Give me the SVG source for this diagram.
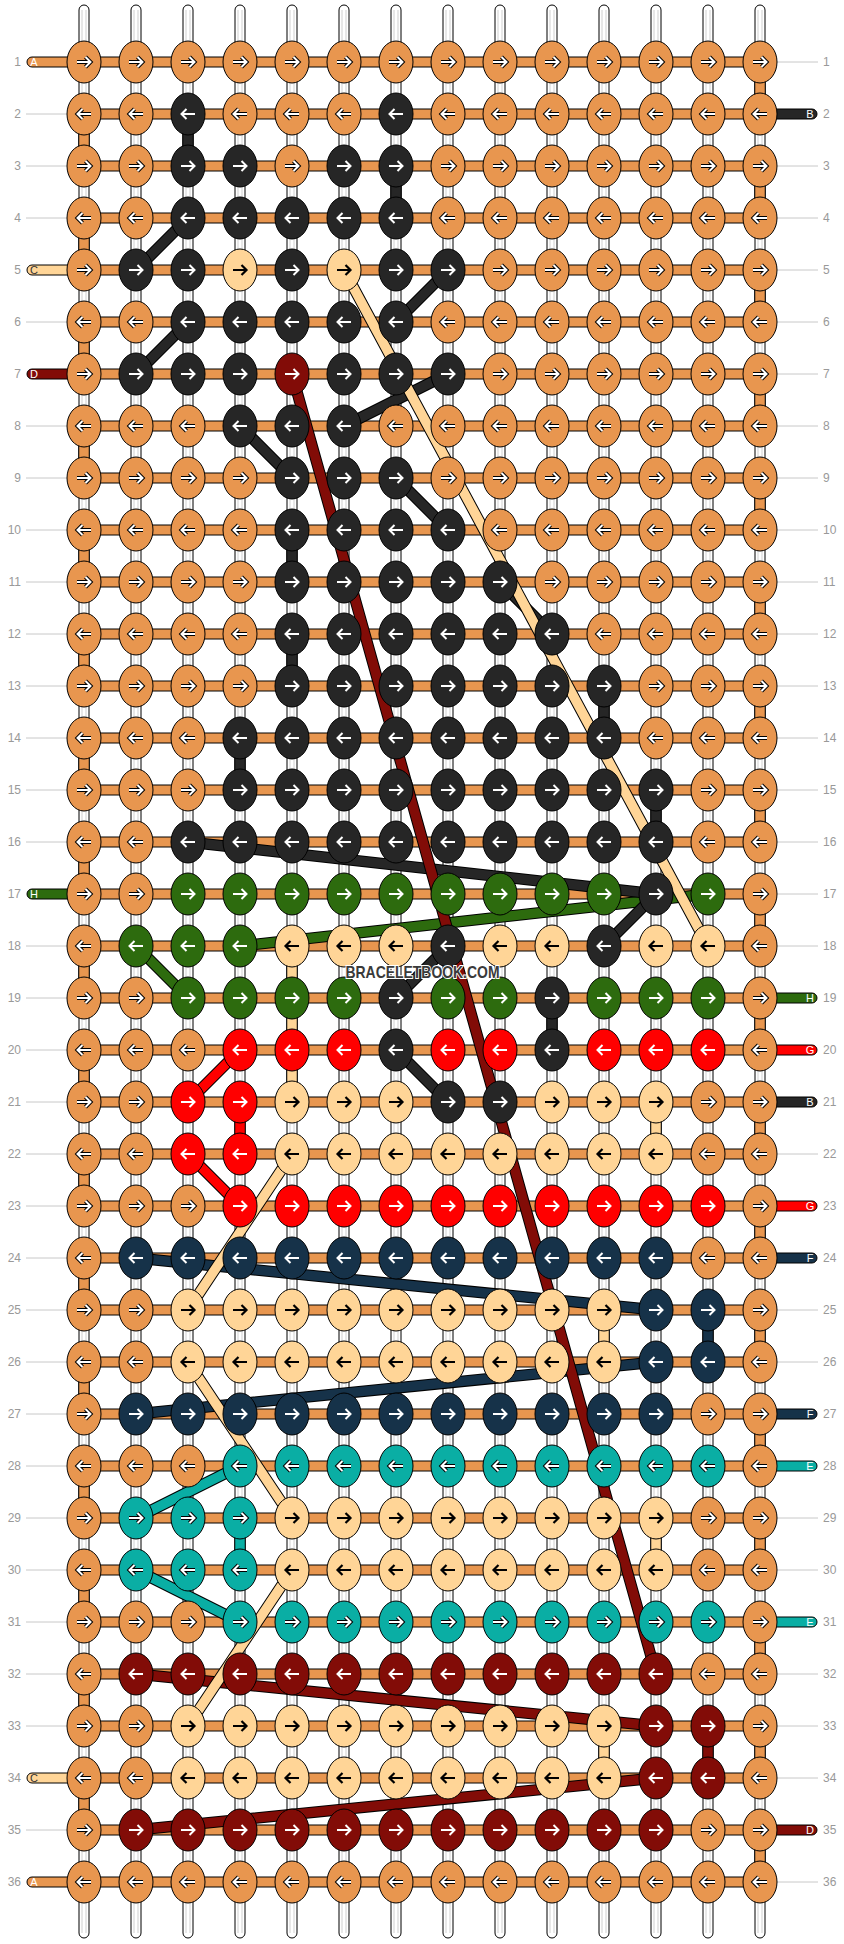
<svg xmlns="http://www.w3.org/2000/svg" xmlns:xlink="http://www.w3.org/1999/xlink" width="844" height="1944" viewBox="0 0 844 1944">
<style>
.k{stroke:#000;stroke-width:1}
.ao{fill:none;stroke:#000;stroke-width:4}
.aw{fill:none;stroke:#fff;stroke-width:2}
.ab{fill:none;stroke:#000;stroke-width:2.2}
.w{fill:#fff;stroke:#000;stroke-width:1}
.wg{fill:none;stroke:#cfcfcf;stroke-width:1}
.wf{fill:#E8964F;stroke:#000;stroke-width:1}
.o{fill:none;stroke:#000;stroke-width:11.5}
.s{fill:none;stroke-width:9.5}
.lab{font-family:"Liberation Sans",Arial,sans-serif;font-size:12px;fill:#999}
.st{font-family:"Liberation Sans",Arial,sans-serif;font-size:11px;text-anchor:middle;fill:#fff}
.gl{fill:none;stroke:#c8c8c8;stroke-width:1}
</style>
<defs>
<path id="ar" d="M-7,0H6M1.5,-5L6.5,0L1.5,5"/>
<path id="al" d="M7,0H-6M-1.5,-5L-6.5,0L-1.5,5"/>
<g id="AR"><ellipse class="k" rx="17" ry="21" fill="#E8964F"/><use href="#ar" class="ao"/><use href="#ar" class="aw"/></g>
<g id="AL"><ellipse class="k" rx="17" ry="21" fill="#E8964F"/><use href="#al" class="ao"/><use href="#al" class="aw"/></g>
<g id="BR"><ellipse class="k" rx="17" ry="21" fill="#262626"/><use href="#ar" class="aw"/></g>
<g id="BL"><ellipse class="k" rx="17" ry="21" fill="#262626"/><use href="#al" class="aw"/></g>
<g id="CR"><ellipse class="k" rx="17" ry="21" fill="#FFD597"/><use href="#ar" class="ab"/></g>
<g id="CL"><ellipse class="k" rx="17" ry="21" fill="#FFD597"/><use href="#al" class="ab"/></g>
<g id="DR"><ellipse class="k" rx="17" ry="21" fill="#820C07"/><use href="#ar" class="aw"/></g>
<g id="DL"><ellipse class="k" rx="17" ry="21" fill="#820C07"/><use href="#al" class="aw"/></g>
<g id="ER"><ellipse class="k" rx="17" ry="21" fill="#0AAEA4"/><use href="#ar" class="ao"/><use href="#ar" class="aw"/></g>
<g id="EL"><ellipse class="k" rx="17" ry="21" fill="#0AAEA4"/><use href="#al" class="ao"/><use href="#al" class="aw"/></g>
<g id="FR"><ellipse class="k" rx="17" ry="21" fill="#163249"/><use href="#ar" class="aw"/></g>
<g id="FL"><ellipse class="k" rx="17" ry="21" fill="#163249"/><use href="#al" class="aw"/></g>
<g id="GR"><ellipse class="k" rx="17" ry="21" fill="#FF0000"/><use href="#ar" class="aw"/></g>
<g id="GL"><ellipse class="k" rx="17" ry="21" fill="#FF0000"/><use href="#al" class="aw"/></g>
<g id="HR"><ellipse class="k" rx="17" ry="21" fill="#2D6B0E"/><use href="#ar" class="aw"/></g>
<g id="HL"><ellipse class="k" rx="17" ry="21" fill="#2D6B0E"/><use href="#al" class="aw"/></g>
</defs>
<rect width="844" height="1944" fill="#fff"/>
<g id="warps">
<rect class="w" x="79" y="5" width="10" height="1933" rx="5"/><rect class="w" x="131" y="5" width="10" height="1933" rx="5"/><rect class="w" x="183" y="5" width="10" height="1933" rx="5"/><rect class="w" x="235" y="5" width="10" height="1933" rx="5"/><rect class="w" x="287" y="5" width="10" height="1933" rx="5"/><rect class="w" x="339" y="5" width="10" height="1933" rx="5"/><rect class="w" x="391" y="5" width="10" height="1933" rx="5"/><rect class="w" x="443" y="5" width="10" height="1933" rx="5"/><rect class="w" x="495" y="5" width="10" height="1933" rx="5"/><rect class="w" x="547" y="5" width="10" height="1933" rx="5"/><rect class="w" x="599" y="5" width="10" height="1933" rx="5"/><rect class="w" x="651" y="5" width="10" height="1933" rx="5"/><rect class="w" x="703" y="5" width="10" height="1933" rx="5"/><rect class="w" x="755" y="5" width="10" height="1933" rx="5"/>
<path class="wg" d="M82,10V1933M86,10V1933M134,10V1933M138,10V1933M186,10V1933M190,10V1933M238,10V1933M242,10V1933M290,10V1933M294,10V1933M342,10V1933M346,10V1933M394,10V1933M398,10V1933M446,10V1933M450,10V1933M498,10V1933M502,10V1933M550,10V1933M554,10V1933M602,10V1933M606,10V1933M654,10V1933M658,10V1933M706,10V1933M710,10V1933M758,10V1933M762,10V1933"/>
</g>
<g id="wefts">
<rect class="wf" x="84" y="57" width="676" height="10"/><rect class="wf" x="84" y="109" width="676" height="10"/><rect class="wf" x="84" y="161" width="676" height="10"/><rect class="wf" x="84" y="213" width="676" height="10"/><rect class="wf" x="84" y="265" width="676" height="10"/><rect class="wf" x="84" y="317" width="676" height="10"/><rect class="wf" x="84" y="369" width="676" height="10"/><rect class="wf" x="84" y="421" width="676" height="10"/><rect class="wf" x="84" y="473" width="676" height="10"/><rect class="wf" x="84" y="525" width="676" height="10"/><rect class="wf" x="84" y="577" width="676" height="10"/><rect class="wf" x="84" y="629" width="676" height="10"/><rect class="wf" x="84" y="681" width="676" height="10"/><rect class="wf" x="84" y="733" width="676" height="10"/><rect class="wf" x="84" y="785" width="676" height="10"/><rect class="wf" x="84" y="837" width="676" height="10"/><rect class="wf" x="84" y="889" width="676" height="10"/><rect class="wf" x="84" y="941" width="676" height="10"/><rect class="wf" x="84" y="993" width="676" height="10"/><rect class="wf" x="84" y="1045" width="676" height="10"/><rect class="wf" x="84" y="1097" width="676" height="10"/><rect class="wf" x="84" y="1149" width="676" height="10"/><rect class="wf" x="84" y="1201" width="676" height="10"/><rect class="wf" x="84" y="1253" width="676" height="10"/><rect class="wf" x="84" y="1305" width="676" height="10"/><rect class="wf" x="84" y="1357" width="676" height="10"/><rect class="wf" x="84" y="1409" width="676" height="10"/><rect class="wf" x="84" y="1461" width="676" height="10"/><rect class="wf" x="84" y="1513" width="676" height="10"/><rect class="wf" x="84" y="1565" width="676" height="10"/><rect class="wf" x="84" y="1617" width="676" height="10"/><rect class="wf" x="84" y="1669" width="676" height="10"/><rect class="wf" x="84" y="1721" width="676" height="10"/><rect class="wf" x="84" y="1773" width="676" height="10"/><rect class="wf" x="84" y="1825" width="676" height="10"/><rect class="wf" x="84" y="1877" width="676" height="10"/>
</g>
<g id="stubs">
<rect class="k" x="27" y="57" width="60" height="10" rx="5" fill="#E8964F"/>
<rect class="k" x="27" y="265" width="60" height="10" rx="5" fill="#FFD597"/>
<rect class="k" x="27" y="369" width="60" height="10" rx="5" fill="#820C07"/>
<rect class="k" x="27" y="889" width="60" height="10" rx="5" fill="#2D6B0E"/>
<rect class="k" x="27" y="1773" width="60" height="10" rx="5" fill="#FFD597"/>
<rect class="k" x="27" y="1877" width="60" height="10" rx="5" fill="#E8964F"/>
<rect class="k" x="757" y="109" width="60" height="10" rx="5" fill="#262626"/>
<rect class="k" x="757" y="993" width="60" height="10" rx="5" fill="#2D6B0E"/>
<rect class="k" x="757" y="1045" width="60" height="10" rx="5" fill="#FF0000"/>
<rect class="k" x="757" y="1097" width="60" height="10" rx="5" fill="#262626"/>
<rect class="k" x="757" y="1201" width="60" height="10" rx="5" fill="#FF0000"/>
<rect class="k" x="757" y="1253" width="60" height="10" rx="5" fill="#163249"/>
<rect class="k" x="757" y="1409" width="60" height="10" rx="5" fill="#163249"/>
<rect class="k" x="757" y="1461" width="60" height="10" rx="5" fill="#0AAEA4"/>
<rect class="k" x="757" y="1617" width="60" height="10" rx="5" fill="#0AAEA4"/>
<rect class="k" x="757" y="1825" width="60" height="10" rx="5" fill="#820C07"/>
<text class="st" x="34" y="66">A</text>
<text class="st" x="34" y="274" fill="#333" style="fill:#333">C</text>
<text class="st" x="34" y="378">D</text>
<text class="st" x="34" y="898">H</text>
<text class="st" x="34" y="1782" style="fill:#333">C</text>
<text class="st" x="34" y="1886">A</text>
<text class="st" x="810" y="118">B</text>
<text class="st" x="810" y="1002">H</text>
<text class="st" x="810" y="1054">G</text>
<text class="st" x="810" y="1106">B</text>
<text class="st" x="810" y="1210">G</text>
<text class="st" x="810" y="1262">F</text>
<text class="st" x="810" y="1418">F</text>
<text class="st" x="810" y="1470">E</text>
<text class="st" x="810" y="1626">E</text>
<text class="st" x="810" y="1834">D</text>
</g>
<g id="connectors">
<path class="o" d="M84,114V166M84,218V270M84,322V374M84,426V478M84,530V582M84,634V686M84,738V790M84,842V894M84,946V998M84,1050V1102M84,1154V1206M84,1258V1310M84,1362V1414M84,1466V1518M84,1570V1622M84,1674V1726M84,1778V1830M760,62V114M760,166V218M760,270V322M760,374V426M760,478V530M760,582V634M760,686V738M760,790V842M760,894V946M760,998V1050M760,1102V1154M760,1206V1258M760,1310V1362M760,1414V1466M760,1518V1570M760,1622V1674M760,1726V1778M760,1830V1882"/>
<path class="s" stroke="#E8964F" d="M84,114V166M84,218V270M84,322V374M84,426V478M84,530V582M84,634V686M84,738V790M84,842V894M84,946V998M84,1050V1102M84,1154V1206M84,1258V1310M84,1362V1414M84,1466V1518M84,1570V1622M84,1674V1726M84,1778V1830M760,62V114M760,166V218M760,270V322M760,374V426M760,478V530M760,582V634M760,686V738M760,790V842M760,894V946M760,998V1050M760,1102V1154M760,1206V1258M760,1310V1362M760,1414V1466M760,1518V1570M760,1622V1674M760,1726V1778M760,1830V1882"/>
<path class="o" d="M240,1466L136,1518M240,1518V1570M136,1570L240,1622"/>
<path class="s" stroke="#0AAEA4" d="M240,1466L136,1518M240,1518V1570M136,1570L240,1622"/>
<path class="o" d="M136,1258L656,1310M708,1310V1362M656,1362L136,1414"/>
<path class="s" stroke="#163249" d="M136,1258L656,1310M708,1310V1362M656,1362L136,1414"/>
<path class="o" d="M240,1050L188,1102M240,1102V1154M188,1154L240,1206"/>
<path class="s" stroke="#FF0000" d="M240,1050L188,1102M240,1102V1154M188,1154L240,1206"/>
<path class="o" d="M708,894L240,946M136,946L188,998"/>
<path class="s" stroke="#2D6B0E" d="M708,894L240,946M136,946L188,998"/>
<path class="o" d="M188,114V166M396,166V218M188,218L136,270M448,270L396,322M188,322L136,374M448,374L344,426M240,426L292,478M396,478L448,530M292,530V582M500,582L552,634M292,634V686M604,686V738M240,738V790M656,790V842M188,842L656,894M656,894L604,946M448,946L396,998M552,998V1050M396,1050L448,1102"/>
<path class="s" stroke="#262626" d="M188,114V166M396,166V218M188,218L136,270M448,270L396,322M188,322L136,374M448,374L344,426M240,426L292,478M396,478L448,530M292,530V582M500,582L552,634M292,634V686M604,686V738M240,738V790M656,790V842M188,842L656,894M656,894L604,946M448,946L396,998M552,998V1050M396,1050L448,1102"/>
<path class="o" d="M292,374L656,1674M136,1674L656,1726M708,1726V1778M656,1778L136,1830"/>
<path class="s" stroke="#820C07" d="M292,374L656,1674M136,1674L656,1726M708,1726V1778M656,1778L136,1830"/>
<path class="o" d="M344,270L708,946M292,946V1102M656,1102V1154M292,1154L188,1310M604,1310V1362M188,1362L292,1518M656,1518V1570M292,1570L188,1726M604,1726V1778"/>
<path class="s" stroke="#FFD597" d="M344,270L708,946M292,946V1102M656,1102V1154M292,1154L188,1310M604,1310V1362M188,1362L292,1518M656,1518V1570M292,1570L188,1726M604,1726V1778"/>
</g>
<g id="row-lines">
<path class="gl" d="M26,114H67M26,166H67M26,218H67M26,322H67M26,426H67M26,478H67M26,530H67M26,582H67M26,634H67M26,686H67M26,738H67M26,790H67M26,842H67M26,946H67M26,998H67M26,1050H67M26,1102H67M26,1154H67M26,1206H67M26,1258H67M26,1310H67M26,1362H67M26,1414H67M26,1466H67M26,1518H67M26,1570H67M26,1622H67M26,1674H67M26,1726H67M26,1830H67"/>
<path class="gl" d="M777,62H818M777,166H818M777,218H818M777,270H818M777,322H818M777,374H818M777,426H818M777,478H818M777,530H818M777,582H818M777,634H818M777,686H818M777,738H818M777,790H818M777,842H818M777,894H818M777,946H818M777,1154H818M777,1310H818M777,1362H818M777,1518H818M777,1570H818M777,1674H818M777,1726H818M777,1778H818M777,1882H818"/>
</g>
<g id="row-numbers" class="lab">
<g text-anchor="end">
<text x="21" y="66">1</text><text x="21" y="118">2</text><text x="21" y="170">3</text><text x="21" y="222">4</text><text x="21" y="274">5</text><text x="21" y="326">6</text><text x="21" y="378">7</text><text x="21" y="430">8</text><text x="21" y="482">9</text><text x="21" y="534">10</text><text x="21" y="586">11</text><text x="21" y="638">12</text><text x="21" y="690">13</text><text x="21" y="742">14</text><text x="21" y="794">15</text><text x="21" y="846">16</text><text x="21" y="898">17</text><text x="21" y="950">18</text><text x="21" y="1002">19</text><text x="21" y="1054">20</text><text x="21" y="1106">21</text><text x="21" y="1158">22</text><text x="21" y="1210">23</text><text x="21" y="1262">24</text><text x="21" y="1314">25</text><text x="21" y="1366">26</text><text x="21" y="1418">27</text><text x="21" y="1470">28</text><text x="21" y="1522">29</text><text x="21" y="1574">30</text><text x="21" y="1626">31</text><text x="21" y="1678">32</text><text x="21" y="1730">33</text><text x="21" y="1782">34</text><text x="21" y="1834">35</text><text x="21" y="1886">36</text>
</g>
<g>
<text x="823" y="66">1</text><text x="823" y="118">2</text><text x="823" y="170">3</text><text x="823" y="222">4</text><text x="823" y="274">5</text><text x="823" y="326">6</text><text x="823" y="378">7</text><text x="823" y="430">8</text><text x="823" y="482">9</text><text x="823" y="534">10</text><text x="823" y="586">11</text><text x="823" y="638">12</text><text x="823" y="690">13</text><text x="823" y="742">14</text><text x="823" y="794">15</text><text x="823" y="846">16</text><text x="823" y="898">17</text><text x="823" y="950">18</text><text x="823" y="1002">19</text><text x="823" y="1054">20</text><text x="823" y="1106">21</text><text x="823" y="1158">22</text><text x="823" y="1210">23</text><text x="823" y="1262">24</text><text x="823" y="1314">25</text><text x="823" y="1366">26</text><text x="823" y="1418">27</text><text x="823" y="1470">28</text><text x="823" y="1522">29</text><text x="823" y="1574">30</text><text x="823" y="1626">31</text><text x="823" y="1678">32</text><text x="823" y="1730">33</text><text x="823" y="1782">34</text><text x="823" y="1834">35</text><text x="823" y="1886">36</text>
</g>
</g>
<g id="knots">
<g id="row1" transform="translate(0,62)"><use href="#AR" x="84"/><use href="#AR" x="136"/><use href="#AR" x="188"/><use href="#AR" x="240"/><use href="#AR" x="292"/><use href="#AR" x="344"/><use href="#AR" x="396"/><use href="#AR" x="448"/><use href="#AR" x="500"/><use href="#AR" x="552"/><use href="#AR" x="604"/><use href="#AR" x="656"/><use href="#AR" x="708"/><use href="#AR" x="760"/></g>
<g id="row2" transform="translate(0,114)"><use href="#AL" x="84"/><use href="#AL" x="136"/><use href="#BL" x="188"/><use href="#AL" x="240"/><use href="#AL" x="292"/><use href="#AL" x="344"/><use href="#BL" x="396"/><use href="#AL" x="448"/><use href="#AL" x="500"/><use href="#AL" x="552"/><use href="#AL" x="604"/><use href="#AL" x="656"/><use href="#AL" x="708"/><use href="#AL" x="760"/></g>
<g id="row3" transform="translate(0,166)"><use href="#AR" x="84"/><use href="#AR" x="136"/><use href="#BR" x="188"/><use href="#BR" x="240"/><use href="#AR" x="292"/><use href="#BR" x="344"/><use href="#BR" x="396"/><use href="#AR" x="448"/><use href="#AR" x="500"/><use href="#AR" x="552"/><use href="#AR" x="604"/><use href="#AR" x="656"/><use href="#AR" x="708"/><use href="#AR" x="760"/></g>
<g id="row4" transform="translate(0,218)"><use href="#AL" x="84"/><use href="#AL" x="136"/><use href="#BL" x="188"/><use href="#BL" x="240"/><use href="#BL" x="292"/><use href="#BL" x="344"/><use href="#BL" x="396"/><use href="#AL" x="448"/><use href="#AL" x="500"/><use href="#AL" x="552"/><use href="#AL" x="604"/><use href="#AL" x="656"/><use href="#AL" x="708"/><use href="#AL" x="760"/></g>
<g id="row5" transform="translate(0,270)"><use href="#AR" x="84"/><use href="#BR" x="136"/><use href="#BR" x="188"/><use href="#CR" x="240"/><use href="#BR" x="292"/><use href="#CR" x="344"/><use href="#BR" x="396"/><use href="#BR" x="448"/><use href="#AR" x="500"/><use href="#AR" x="552"/><use href="#AR" x="604"/><use href="#AR" x="656"/><use href="#AR" x="708"/><use href="#AR" x="760"/></g>
<g id="row6" transform="translate(0,322)"><use href="#AL" x="84"/><use href="#AL" x="136"/><use href="#BL" x="188"/><use href="#BL" x="240"/><use href="#BL" x="292"/><use href="#BL" x="344"/><use href="#BL" x="396"/><use href="#AL" x="448"/><use href="#AL" x="500"/><use href="#AL" x="552"/><use href="#AL" x="604"/><use href="#AL" x="656"/><use href="#AL" x="708"/><use href="#AL" x="760"/></g>
<g id="row7" transform="translate(0,374)"><use href="#AR" x="84"/><use href="#BR" x="136"/><use href="#BR" x="188"/><use href="#BR" x="240"/><use href="#DR" x="292"/><use href="#BR" x="344"/><use href="#BR" x="396"/><use href="#BR" x="448"/><use href="#AR" x="500"/><use href="#AR" x="552"/><use href="#AR" x="604"/><use href="#AR" x="656"/><use href="#AR" x="708"/><use href="#AR" x="760"/></g>
<g id="row8" transform="translate(0,426)"><use href="#AL" x="84"/><use href="#AL" x="136"/><use href="#AL" x="188"/><use href="#BL" x="240"/><use href="#BL" x="292"/><use href="#BL" x="344"/><use href="#AL" x="396"/><use href="#AL" x="448"/><use href="#AL" x="500"/><use href="#AL" x="552"/><use href="#AL" x="604"/><use href="#AL" x="656"/><use href="#AL" x="708"/><use href="#AL" x="760"/></g>
<g id="row9" transform="translate(0,478)"><use href="#AR" x="84"/><use href="#AR" x="136"/><use href="#AR" x="188"/><use href="#AR" x="240"/><use href="#BR" x="292"/><use href="#BR" x="344"/><use href="#BR" x="396"/><use href="#AR" x="448"/><use href="#AR" x="500"/><use href="#AR" x="552"/><use href="#AR" x="604"/><use href="#AR" x="656"/><use href="#AR" x="708"/><use href="#AR" x="760"/></g>
<g id="row10" transform="translate(0,530)"><use href="#AL" x="84"/><use href="#AL" x="136"/><use href="#AL" x="188"/><use href="#AL" x="240"/><use href="#BL" x="292"/><use href="#BL" x="344"/><use href="#BL" x="396"/><use href="#BL" x="448"/><use href="#AL" x="500"/><use href="#AL" x="552"/><use href="#AL" x="604"/><use href="#AL" x="656"/><use href="#AL" x="708"/><use href="#AL" x="760"/></g>
<g id="row11" transform="translate(0,582)"><use href="#AR" x="84"/><use href="#AR" x="136"/><use href="#AR" x="188"/><use href="#AR" x="240"/><use href="#BR" x="292"/><use href="#BR" x="344"/><use href="#BR" x="396"/><use href="#BR" x="448"/><use href="#BR" x="500"/><use href="#AR" x="552"/><use href="#AR" x="604"/><use href="#AR" x="656"/><use href="#AR" x="708"/><use href="#AR" x="760"/></g>
<g id="row12" transform="translate(0,634)"><use href="#AL" x="84"/><use href="#AL" x="136"/><use href="#AL" x="188"/><use href="#AL" x="240"/><use href="#BL" x="292"/><use href="#BL" x="344"/><use href="#BL" x="396"/><use href="#BL" x="448"/><use href="#BL" x="500"/><use href="#BL" x="552"/><use href="#AL" x="604"/><use href="#AL" x="656"/><use href="#AL" x="708"/><use href="#AL" x="760"/></g>
<g id="row13" transform="translate(0,686)"><use href="#AR" x="84"/><use href="#AR" x="136"/><use href="#AR" x="188"/><use href="#AR" x="240"/><use href="#BR" x="292"/><use href="#BR" x="344"/><use href="#BR" x="396"/><use href="#BR" x="448"/><use href="#BR" x="500"/><use href="#BR" x="552"/><use href="#BR" x="604"/><use href="#AR" x="656"/><use href="#AR" x="708"/><use href="#AR" x="760"/></g>
<g id="row14" transform="translate(0,738)"><use href="#AL" x="84"/><use href="#AL" x="136"/><use href="#AL" x="188"/><use href="#BL" x="240"/><use href="#BL" x="292"/><use href="#BL" x="344"/><use href="#BL" x="396"/><use href="#BL" x="448"/><use href="#BL" x="500"/><use href="#BL" x="552"/><use href="#BL" x="604"/><use href="#AL" x="656"/><use href="#AL" x="708"/><use href="#AL" x="760"/></g>
<g id="row15" transform="translate(0,790)"><use href="#AR" x="84"/><use href="#AR" x="136"/><use href="#AR" x="188"/><use href="#BR" x="240"/><use href="#BR" x="292"/><use href="#BR" x="344"/><use href="#BR" x="396"/><use href="#BR" x="448"/><use href="#BR" x="500"/><use href="#BR" x="552"/><use href="#BR" x="604"/><use href="#BR" x="656"/><use href="#AR" x="708"/><use href="#AR" x="760"/></g>
<g id="row16" transform="translate(0,842)"><use href="#AL" x="84"/><use href="#AL" x="136"/><use href="#BL" x="188"/><use href="#BL" x="240"/><use href="#BL" x="292"/><use href="#BL" x="344"/><use href="#BL" x="396"/><use href="#BL" x="448"/><use href="#BL" x="500"/><use href="#BL" x="552"/><use href="#BL" x="604"/><use href="#BL" x="656"/><use href="#AL" x="708"/><use href="#AL" x="760"/></g>
<g id="row17" transform="translate(0,894)"><use href="#AR" x="84"/><use href="#AR" x="136"/><use href="#HR" x="188"/><use href="#HR" x="240"/><use href="#HR" x="292"/><use href="#HR" x="344"/><use href="#HR" x="396"/><use href="#HR" x="448"/><use href="#HR" x="500"/><use href="#HR" x="552"/><use href="#HR" x="604"/><use href="#BR" x="656"/><use href="#HR" x="708"/><use href="#AR" x="760"/></g>
<g id="row18" transform="translate(0,946)"><use href="#AL" x="84"/><use href="#HL" x="136"/><use href="#HL" x="188"/><use href="#HL" x="240"/><use href="#CL" x="292"/><use href="#CL" x="344"/><use href="#CL" x="396"/><use href="#BL" x="448"/><use href="#CL" x="500"/><use href="#CL" x="552"/><use href="#BL" x="604"/><use href="#CL" x="656"/><use href="#CL" x="708"/><use href="#AL" x="760"/></g>
<g id="row19" transform="translate(0,998)"><use href="#AR" x="84"/><use href="#AR" x="136"/><use href="#HR" x="188"/><use href="#HR" x="240"/><use href="#HR" x="292"/><use href="#HR" x="344"/><use href="#BR" x="396"/><use href="#HR" x="448"/><use href="#HR" x="500"/><use href="#BR" x="552"/><use href="#HR" x="604"/><use href="#HR" x="656"/><use href="#HR" x="708"/><use href="#AR" x="760"/></g>
<g id="row20" transform="translate(0,1050)"><use href="#AL" x="84"/><use href="#AL" x="136"/><use href="#AL" x="188"/><use href="#GL" x="240"/><use href="#GL" x="292"/><use href="#GL" x="344"/><use href="#BL" x="396"/><use href="#GL" x="448"/><use href="#GL" x="500"/><use href="#BL" x="552"/><use href="#GL" x="604"/><use href="#GL" x="656"/><use href="#GL" x="708"/><use href="#AL" x="760"/></g>
<g id="row21" transform="translate(0,1102)"><use href="#AR" x="84"/><use href="#AR" x="136"/><use href="#GR" x="188"/><use href="#GR" x="240"/><use href="#CR" x="292"/><use href="#CR" x="344"/><use href="#CR" x="396"/><use href="#BR" x="448"/><use href="#BR" x="500"/><use href="#CR" x="552"/><use href="#CR" x="604"/><use href="#CR" x="656"/><use href="#AR" x="708"/><use href="#AR" x="760"/></g>
<g id="row22" transform="translate(0,1154)"><use href="#AL" x="84"/><use href="#AL" x="136"/><use href="#GL" x="188"/><use href="#GL" x="240"/><use href="#CL" x="292"/><use href="#CL" x="344"/><use href="#CL" x="396"/><use href="#CL" x="448"/><use href="#CL" x="500"/><use href="#CL" x="552"/><use href="#CL" x="604"/><use href="#CL" x="656"/><use href="#AL" x="708"/><use href="#AL" x="760"/></g>
<g id="row23" transform="translate(0,1206)"><use href="#AR" x="84"/><use href="#AR" x="136"/><use href="#AR" x="188"/><use href="#GR" x="240"/><use href="#GR" x="292"/><use href="#GR" x="344"/><use href="#GR" x="396"/><use href="#GR" x="448"/><use href="#GR" x="500"/><use href="#GR" x="552"/><use href="#GR" x="604"/><use href="#GR" x="656"/><use href="#GR" x="708"/><use href="#AR" x="760"/></g>
<g id="row24" transform="translate(0,1258)"><use href="#AL" x="84"/><use href="#FL" x="136"/><use href="#FL" x="188"/><use href="#FL" x="240"/><use href="#FL" x="292"/><use href="#FL" x="344"/><use href="#FL" x="396"/><use href="#FL" x="448"/><use href="#FL" x="500"/><use href="#FL" x="552"/><use href="#FL" x="604"/><use href="#FL" x="656"/><use href="#AL" x="708"/><use href="#AL" x="760"/></g>
<g id="row25" transform="translate(0,1310)"><use href="#AR" x="84"/><use href="#AR" x="136"/><use href="#CR" x="188"/><use href="#CR" x="240"/><use href="#CR" x="292"/><use href="#CR" x="344"/><use href="#CR" x="396"/><use href="#CR" x="448"/><use href="#CR" x="500"/><use href="#CR" x="552"/><use href="#CR" x="604"/><use href="#FR" x="656"/><use href="#FR" x="708"/><use href="#AR" x="760"/></g>
<g id="row26" transform="translate(0,1362)"><use href="#AL" x="84"/><use href="#AL" x="136"/><use href="#CL" x="188"/><use href="#CL" x="240"/><use href="#CL" x="292"/><use href="#CL" x="344"/><use href="#CL" x="396"/><use href="#CL" x="448"/><use href="#CL" x="500"/><use href="#CL" x="552"/><use href="#CL" x="604"/><use href="#FL" x="656"/><use href="#FL" x="708"/><use href="#AL" x="760"/></g>
<g id="row27" transform="translate(0,1414)"><use href="#AR" x="84"/><use href="#FR" x="136"/><use href="#FR" x="188"/><use href="#FR" x="240"/><use href="#FR" x="292"/><use href="#FR" x="344"/><use href="#FR" x="396"/><use href="#FR" x="448"/><use href="#FR" x="500"/><use href="#FR" x="552"/><use href="#FR" x="604"/><use href="#FR" x="656"/><use href="#AR" x="708"/><use href="#AR" x="760"/></g>
<g id="row28" transform="translate(0,1466)"><use href="#AL" x="84"/><use href="#AL" x="136"/><use href="#AL" x="188"/><use href="#EL" x="240"/><use href="#EL" x="292"/><use href="#EL" x="344"/><use href="#EL" x="396"/><use href="#EL" x="448"/><use href="#EL" x="500"/><use href="#EL" x="552"/><use href="#EL" x="604"/><use href="#EL" x="656"/><use href="#EL" x="708"/><use href="#AL" x="760"/></g>
<g id="row29" transform="translate(0,1518)"><use href="#AR" x="84"/><use href="#ER" x="136"/><use href="#ER" x="188"/><use href="#ER" x="240"/><use href="#CR" x="292"/><use href="#CR" x="344"/><use href="#CR" x="396"/><use href="#CR" x="448"/><use href="#CR" x="500"/><use href="#CR" x="552"/><use href="#CR" x="604"/><use href="#CR" x="656"/><use href="#AR" x="708"/><use href="#AR" x="760"/></g>
<g id="row30" transform="translate(0,1570)"><use href="#AL" x="84"/><use href="#EL" x="136"/><use href="#EL" x="188"/><use href="#EL" x="240"/><use href="#CL" x="292"/><use href="#CL" x="344"/><use href="#CL" x="396"/><use href="#CL" x="448"/><use href="#CL" x="500"/><use href="#CL" x="552"/><use href="#CL" x="604"/><use href="#CL" x="656"/><use href="#AL" x="708"/><use href="#AL" x="760"/></g>
<g id="row31" transform="translate(0,1622)"><use href="#AR" x="84"/><use href="#AR" x="136"/><use href="#AR" x="188"/><use href="#ER" x="240"/><use href="#ER" x="292"/><use href="#ER" x="344"/><use href="#ER" x="396"/><use href="#ER" x="448"/><use href="#ER" x="500"/><use href="#ER" x="552"/><use href="#ER" x="604"/><use href="#ER" x="656"/><use href="#ER" x="708"/><use href="#AR" x="760"/></g>
<g id="row32" transform="translate(0,1674)"><use href="#AL" x="84"/><use href="#DL" x="136"/><use href="#DL" x="188"/><use href="#DL" x="240"/><use href="#DL" x="292"/><use href="#DL" x="344"/><use href="#DL" x="396"/><use href="#DL" x="448"/><use href="#DL" x="500"/><use href="#DL" x="552"/><use href="#DL" x="604"/><use href="#DL" x="656"/><use href="#AL" x="708"/><use href="#AL" x="760"/></g>
<g id="row33" transform="translate(0,1726)"><use href="#AR" x="84"/><use href="#AR" x="136"/><use href="#CR" x="188"/><use href="#CR" x="240"/><use href="#CR" x="292"/><use href="#CR" x="344"/><use href="#CR" x="396"/><use href="#CR" x="448"/><use href="#CR" x="500"/><use href="#CR" x="552"/><use href="#CR" x="604"/><use href="#DR" x="656"/><use href="#DR" x="708"/><use href="#AR" x="760"/></g>
<g id="row34" transform="translate(0,1778)"><use href="#AL" x="84"/><use href="#AL" x="136"/><use href="#CL" x="188"/><use href="#CL" x="240"/><use href="#CL" x="292"/><use href="#CL" x="344"/><use href="#CL" x="396"/><use href="#CL" x="448"/><use href="#CL" x="500"/><use href="#CL" x="552"/><use href="#CL" x="604"/><use href="#DL" x="656"/><use href="#DL" x="708"/><use href="#AL" x="760"/></g>
<g id="row35" transform="translate(0,1830)"><use href="#AR" x="84"/><use href="#DR" x="136"/><use href="#DR" x="188"/><use href="#DR" x="240"/><use href="#DR" x="292"/><use href="#DR" x="344"/><use href="#DR" x="396"/><use href="#DR" x="448"/><use href="#DR" x="500"/><use href="#DR" x="552"/><use href="#DR" x="604"/><use href="#DR" x="656"/><use href="#AR" x="708"/><use href="#AR" x="760"/></g>
<g id="row36" transform="translate(0,1882)"><use href="#AL" x="84"/><use href="#AL" x="136"/><use href="#AL" x="188"/><use href="#AL" x="240"/><use href="#AL" x="292"/><use href="#AL" x="344"/><use href="#AL" x="396"/><use href="#AL" x="448"/><use href="#AL" x="500"/><use href="#AL" x="552"/><use href="#AL" x="604"/><use href="#AL" x="656"/><use href="#AL" x="708"/><use href="#AL" x="760"/></g>
</g>
<g id="watermark">
<text x="422.5" y="978" text-anchor="middle" textLength="154" lengthAdjust="spacingAndGlyphs" font-family="'Liberation Sans', Arial, sans-serif" font-weight="bold" font-size="17" fill="#3a3a3a" stroke="#fff" stroke-width="2" paint-order="stroke">BRACELETBOOK.COM</text>
</g>
</svg>
